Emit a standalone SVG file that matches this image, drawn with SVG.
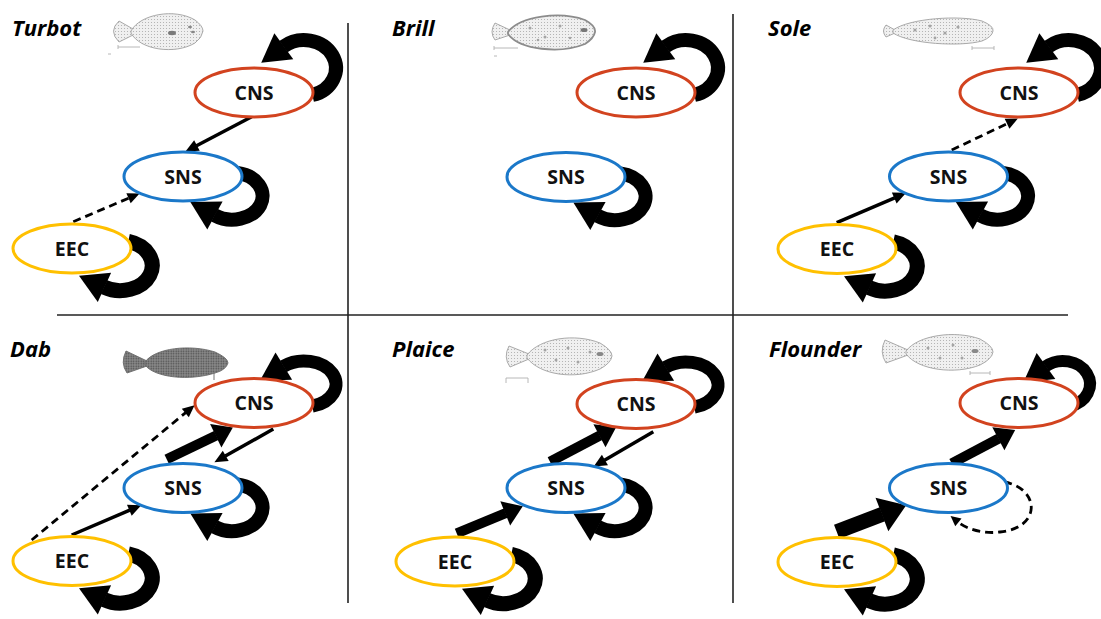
<svg xmlns="http://www.w3.org/2000/svg" width="1101" height="619" viewBox="0 0 1101 619">
  <defs>
    <style>
      .title { font-family: "Open Sans", "Liberation Sans", sans-serif; font-weight: 700; font-style: italic; font-size: 22px; fill: #000; }
      .label { font-family: "Open Sans", "Liberation Sans", sans-serif; font-weight: 700; font-size: 19.5px; fill: #111; text-anchor: middle; }
      .node { fill: #fff; stroke-width: 3; }
      .cns { stroke: #D2431F; }
      .sns { stroke: #1B78C9; }
      .eec { stroke: #FFC000; }
      .divider { stroke: #222; stroke-width: 1.6; fill: none; }
      .loop { fill: none; stroke: #000; marker-end: url(#headLoop); }
      .thin { fill: none; stroke: #000; stroke-width: 3.5; marker-end: url(#headThin); }
      .dash { fill: none; stroke: #000; stroke-width: 2.8; stroke-dasharray: 8 5; marker-end: url(#headDash); }
      .thick { fill: none; stroke: #000; stroke-width: 10; marker-end: url(#headThick); }
      .heavy { fill: none; stroke: #000; stroke-width: 15; marker-end: url(#headHeavy); }
      .fish { fill: url(#stipple); stroke: #a0a0a0; stroke-width: 0.9; }
      .fin { fill: url(#stipple); stroke: #8c8c8c; stroke-width: 1.8; }
      .fishDark { fill: url(#stippleDark); stroke: #6a6a6a; stroke-width: 0.9; }
      .spot { fill: #a4a4a4; }
      .bar { fill: none; stroke: #b0b0b0; stroke-width: 0.9; }
    </style>
    <pattern id="stipple" width="3" height="3" patternUnits="userSpaceOnUse">
      <rect width="3" height="3" fill="#f0f0f0"/>
      <circle cx="1.5" cy="1.5" r="0.55" fill="#ababab"/>
    </pattern>
    <pattern id="stippleDark" width="2.5" height="2.5" patternUnits="userSpaceOnUse">
      <rect width="2.5" height="2.5" fill="#8c8c8c"/>
      <circle cx="1.2" cy="1.2" r="0.8" fill="#4c4c4c"/>
    </pattern>
    <marker id="headThin" markerUnits="userSpaceOnUse" orient="auto" refX="0.5" refY="0" overflow="visible">
      <path d="M0,-6 L13,0 L0,6 z" fill="#000"/>
    </marker>
    <marker id="headDash" markerUnits="userSpaceOnUse" orient="auto" refX="0.5" refY="0" overflow="visible">
      <path d="M0,-5.5 L12,0 L0,5.5 z" fill="#000"/>
    </marker>
    <marker id="headThick" markerUnits="userSpaceOnUse" orient="auto" refX="0.5" refY="0" overflow="visible">
      <path d="M0,-13 L19,0 L0,13 z" fill="#000"/>
    </marker>
    <marker id="headHeavy" markerUnits="userSpaceOnUse" orient="auto" refX="0.5" refY="0" overflow="visible">
      <path d="M0,-18 L26,0 L0,18 z" fill="#000"/>
    </marker>
    <marker id="headLoop" markerUnits="userSpaceOnUse" orient="auto" refX="0.5" refY="0" overflow="visible">
      <path d="M0,-16 L28,0 L0,16 z" fill="#000"/>
    </marker>
    <marker id="headSmall" markerUnits="userSpaceOnUse" orient="auto" refX="0.5" refY="0" overflow="visible">
      <path d="M0,-5 L10,0 L0,5 z" fill="#000"/>
    </marker>
  </defs>

  <rect width="1101" height="619" fill="#fff"/>

  <!-- panel dividers -->
  <g id="dividers">
    <line class="divider" x1="348" y1="23" x2="348" y2="603"/>
    <line class="divider" x1="733" y1="14" x2="733" y2="603"/>
    <line class="divider" x1="57" y1="315" x2="1068" y2="315"/>
  </g>

  <!-- species titles -->
  <g id="titles">
    <text class="title" x="12" y="36">Turbot</text>
    <text class="title" x="392" y="36">Brill</text>
    <text class="title" x="768" y="36">Sole</text>
    <text class="title" x="10" y="357">Dab</text>
    <text class="title" x="392" y="357">Plaice</text>
    <text class="title" x="769" y="357">Flounder</text>
  </g>

  <!-- fish sketches (head to the right) -->
  <g id="fish">
    <g id="fish-turbot">
      <path class="fish" d="M133,29 L119,21 Q108,31 119,42 L133,35 z"/>
      <path class="fish" d="M131,31 C140,14 175,8 195,20 Q203,26 203,31 Q202,38 195,43 C175,55 140,50 131,33 z"/>
      <ellipse cx="172" cy="33" rx="4" ry="2.2" fill="#7a7a7a"/>
      <ellipse cx="190" cy="27" rx="2" ry="1.3" fill="#888"/>
      <ellipse cx="193" cy="32" rx="2" ry="1.3" fill="#888"/>
      <path class="bar" d="M118,47 h22 M118,45 v4 M108,54 h3"/>
    </g>
    <g id="fish-brill">
      <path class="fish" d="M510,30 L495,23 Q489,32 495,40 L510,35 z"/>
      <path class="fin" d="M508,32 C520,16 560,11 585,20 Q596,26 595,32 Q594,38 585,44 C560,54 520,50 508,34 z"/>
      <circle class="spot" cx="530" cy="28" r="1.5"/>
      <circle class="spot" cx="545" cy="37" r="1.5"/>
      <circle class="spot" cx="560" cy="26" r="1.5"/>
      <circle class="spot" cx="538" cy="40" r="1.3"/>
      <circle class="spot" cx="570" cy="38" r="1.3"/>
      <ellipse cx="584" cy="30" rx="3.5" ry="2" fill="#777"/>
      <path class="bar" d="M494,48 h24 M494,46 v4 M494,56 h3"/>
    </g>
    <g id="fish-sole">
      <path class="fish" d="M895,30 L886,25 Q881,31 886,37 L895,33 z"/>
      <path class="fish" d="M893,30 C910,18 960,15 982,21 Q994,26 993,31 Q992,37 982,41 C960,47 910,44 893,33 z"/>
      <circle class="spot" cx="915" cy="30" r="1.6"/>
      <circle class="spot" cx="930" cy="26" r="1.6"/>
      <circle class="spot" cx="945" cy="33" r="1.6"/>
      <circle class="spot" cx="958" cy="27" r="1.6"/>
      <circle class="spot" cx="935" cy="38" r="1.4"/>
      <path class="bar" d="M972,48 h22 M972,46 v4 M994,46 v4"/>
    </g>
    <g id="fish-dab">
      <path class="fishDark" d="M147,361 L126,351 Q120,363 127,373 L147,366 z"/>
      <path class="fishDark" d="M145,362 C155,348 190,344 215,352 Q228,358 228,363 Q226,370 215,373 C190,381 155,378 145,365 z"/>
      <path d="M214,372 v8" stroke="#777" stroke-width="1"/>
    </g>
    <g id="fish-plaice">
      <path class="fish" d="M529,354 L509,346 Q503,357 510,367 L529,359 z"/>
      <path class="fish" d="M527,355 C540,338 575,333 600,343 Q612,350 612,356 Q611,363 600,369 C575,380 540,375 527,358 z"/>
      <circle class="spot" cx="545" cy="350" r="1.5"/>
      <circle class="spot" cx="556" cy="360" r="1.5"/>
      <circle class="spot" cx="568" cy="348" r="1.5"/>
      <circle class="spot" cx="578" cy="362" r="1.5"/>
      <circle class="spot" cx="590" cy="352" r="1.5"/>
      <ellipse cx="600" cy="354" rx="3.5" ry="2" fill="#888"/>
      <path class="bar" d="M506,383 v-5 h22 v5"/>
    </g>
    <g id="fish-flounder">
      <path class="fish" d="M908,350 L885,340 Q879,352 886,363 L908,355 z"/>
      <path class="fish" d="M906,351 C918,335 955,330 980,339 Q993,346 993,352 Q992,359 980,365 C955,375 918,370 906,354 z"/>
      <circle class="spot" cx="928" cy="348" r="1.5"/>
      <circle class="spot" cx="940" cy="358" r="1.5"/>
      <circle class="spot" cx="953" cy="345" r="1.5"/>
      <circle class="spot" cx="962" cy="358" r="1.5"/>
      <ellipse cx="975" cy="351" rx="3.5" ry="2" fill="#888"/>
      <path class="bar" d="M970,373 h20 M970,371 v4 M990,371 v4"/>
    </g>
  </g>

  <!-- connectors: self-loops and links between compartments -->
  <g id="connectors">
    <!-- Turbot -->
    <path class="loop" stroke-width="14" transform="translate(254,92.5)" d="M58.3,2.55 A32,28 0 1 0 29.4,-45.95"/>
    <path class="loop" stroke-width="14" transform="translate(183,176.5)" d="M54.3,-3.6 A30.5,23.5 0 1 1 31.5,38.75"/>
    <path class="loop" stroke-width="15" transform="translate(72,248.5)" d="M56.3,-7.1 A32,25 0 1 1 32,38.65"/>
    <path class="thin" d="M251.7,116.7 L196.5,145.7"/>
    <path class="dash" d="M73.3,221.7 L129,198"/>

    <!-- Brill -->
    <path class="loop" stroke-width="14" transform="translate(636,92.5)" d="M58.3,2.55 A32,28 0 1 0 29.4,-45.95"/>
    <path class="loop" stroke-width="14" transform="translate(566,177)" d="M54.3,-3.6 A30.5,23.5 0 1 1 31.5,38.75"/>

    <!-- Sole -->
    <path class="loop" stroke-width="14" transform="translate(1019,92.5)" d="M58.3,2.55 A32,28 0 1 0 29.4,-45.95"/>
    <path class="loop" stroke-width="14" transform="translate(948.5,176.5)" d="M54.3,-3.6 A30.5,23.5 0 1 1 31.5,38.75"/>
    <path class="loop" stroke-width="15" transform="translate(837,249)" d="M56.3,-7.1 A32,25 0 1 1 32,38.65"/>
    <path class="dash" d="M951.7,150 L1007.5,123.5"/>
    <path class="thin" d="M836.7,222.7 L894.7,197.8"/>

    <!-- Dab -->
    <path class="loop" stroke-width="13" transform="translate(254,403)" d="M58.3,3.2 A32,23 0 1 0 29.4,-36.6"/>
    <path class="loop" stroke-width="14" transform="translate(183,488)" d="M54.3,-3.6 A30.5,23.5 0 1 1 31.5,38.75"/>
    <path class="loop" stroke-width="15" transform="translate(72,561)" d="M56.3,-7.1 A32,25 0 1 1 32,38.65"/>
    <path class="dash" d="M31.7,540 L185.7,412.6"/>
    <path class="thin" d="M71.7,535 L129.8,510.1"/>
    <path class="thick" d="M166.7,459.3 L216.2,435.5"/>
    <path class="thin" d="M273.3,429 L225.3,456.1"/>

    <!-- Plaice -->
    <path class="loop" stroke-width="13" transform="translate(636,404)" d="M58.3,3.2 A32,23 0 1 0 29.4,-36.6"/>
    <path class="loop" stroke-width="14" transform="translate(566,488)" d="M54.3,-3.6 A30.5,23.5 0 1 1 31.5,38.75"/>
    <path class="loop" stroke-width="15" transform="translate(455,561.5)" d="M56.3,-7.1 A32,25 0 1 1 32,38.65"/>
    <path class="thick" d="M456.7,533.3 L505.7,513.2"/>
    <path class="thick" d="M550,461.7 L599.9,435.5"/>
    <path class="thin" d="M653.3,431.7 L604.5,460.2"/>

    <!-- Flounder -->
    <path class="loop" stroke-width="12" transform="translate(1019,403)" d="M51,3.2 A27,23 0 1 0 26.6,-36.6"/>
    <path class="loop" stroke-width="15" transform="translate(837,562)" d="M56.3,-7.1 A32,25 0 1 1 32,38.65"/>
    <path fill="none" stroke="#000" stroke-width="2.8" stroke-dasharray="8 5" marker-end="url(#headSmall)" d="M1004,482 C1040,488 1042,528 1000,532 C985,534 968,530 958,522"/>
    <path class="heavy" d="M836.7,531.7 L882.4,514.3"/>
    <path class="thick" stroke-width="11" d="M951.7,463.3 L998.8,438.5"/>
  </g>

  <!-- compartment nodes -->
  <g id="nodes">
    <g id="turbot-cns"><ellipse class="node cns" cx="254" cy="92.5" rx="59" ry="24.5"/><text class="label" x="254" y="99.5">CNS</text></g>
    <g id="turbot-sns"><ellipse class="node sns" cx="183" cy="176.5" rx="59" ry="24.5"/><text class="label" x="183" y="183.5">SNS</text></g>
    <g id="turbot-eec"><ellipse class="node eec" cx="72" cy="248.5" rx="59" ry="24.5"/><text class="label" x="72" y="255.5">EEC</text></g>

    <g id="brill-cns"><ellipse class="node cns" cx="636" cy="92.5" rx="59" ry="24.5"/><text class="label" x="636" y="99.5">CNS</text></g>
    <g id="brill-sns"><ellipse class="node sns" cx="566" cy="177" rx="59" ry="24.5"/><text class="label" x="566" y="184">SNS</text></g>

    <g id="sole-cns"><ellipse class="node cns" cx="1019" cy="92.5" rx="59" ry="24.5"/><text class="label" x="1019" y="99.5">CNS</text></g>
    <g id="sole-sns"><ellipse class="node sns" cx="948.5" cy="176.5" rx="59" ry="24.5"/><text class="label" x="948.5" y="183.5">SNS</text></g>
    <g id="sole-eec"><ellipse class="node eec" cx="837" cy="249" rx="59" ry="24.5"/><text class="label" x="837" y="256">EEC</text></g>

    <g id="dab-cns"><ellipse class="node cns" cx="254" cy="403" rx="59" ry="24.5"/><text class="label" x="254" y="410">CNS</text></g>
    <g id="dab-sns"><ellipse class="node sns" cx="183" cy="488" rx="59" ry="24.5"/><text class="label" x="183" y="495">SNS</text></g>
    <g id="dab-eec"><ellipse class="node eec" cx="72" cy="561" rx="59" ry="24.5"/><text class="label" x="72" y="568">EEC</text></g>

    <g id="plaice-cns"><ellipse class="node cns" cx="636" cy="404" rx="59" ry="24.5"/><text class="label" x="636" y="411">CNS</text></g>
    <g id="plaice-sns"><ellipse class="node sns" cx="566" cy="488" rx="59" ry="24.5"/><text class="label" x="566" y="495">SNS</text></g>
    <g id="plaice-eec"><ellipse class="node eec" cx="455" cy="561.5" rx="59" ry="24.5"/><text class="label" x="455" y="568.5">EEC</text></g>

    <g id="flounder-cns"><ellipse class="node cns" cx="1019" cy="403" rx="59" ry="24.5"/><text class="label" x="1019" y="410">CNS</text></g>
    <g id="flounder-sns"><ellipse class="node sns" cx="948.5" cy="488" rx="59" ry="24.5"/><text class="label" x="948.5" y="495">SNS</text></g>
    <g id="flounder-eec"><ellipse class="node eec" cx="837" cy="562" rx="59" ry="24.5"/><text class="label" x="837" y="569">EEC</text></g>
  </g>
</svg>
